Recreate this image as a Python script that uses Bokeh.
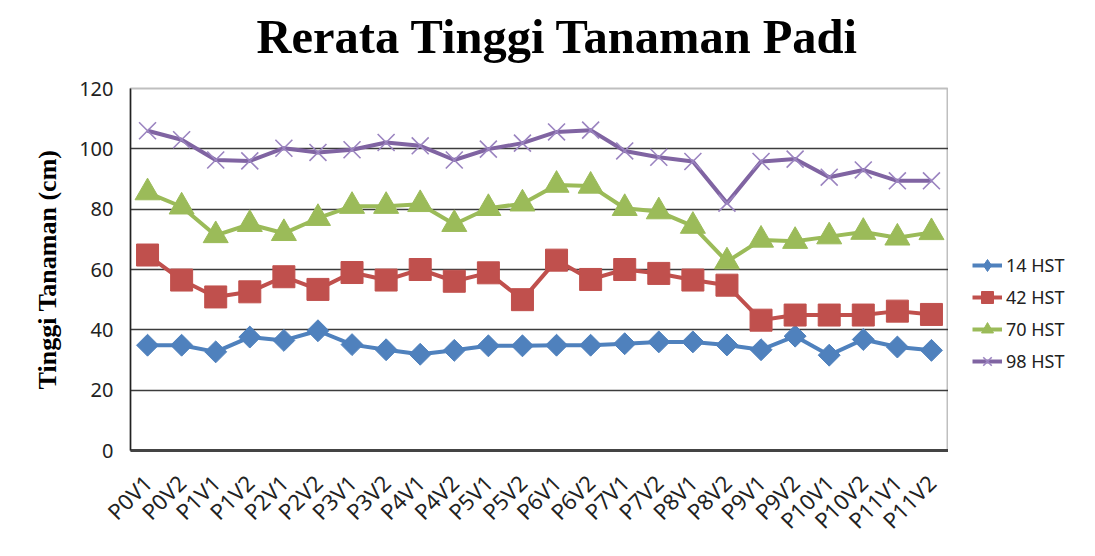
import numpy as np
from bokeh.plotting import figure
from bokeh.layouts import row
from bokeh.models import FactorRange, Range1d, Legend, LegendItem, FixedTicker, Title
from bokeh.embed import file_html
from bokeh.resources import INLINE

categories = ["P0V1", "P0V2", "P1V1", "P1V2", "P2V1", "P2V2", "P3V1", "P3V2",
              "P4V1", "P4V2", "P5V1", "P5V2", "P6V1", "P6V2", "P7V1", "P7V2",
              "P8V1", "P8V2", "P9V1", "P9V2", "P10V1", "P10V2", "P11V1", "P11V2"]

hst14 = [34.9, 34.9, 32.7, 37.6, 36.5, 39.7, 35.1, 33.4, 31.9, 33.2, 34.7, 34.7,
         34.9, 34.9, 35.4, 36.0, 36.0, 35.0, 33.4, 37.9, 31.6, 36.8, 34.3, 33.2]
hst42 = [64.8, 56.5, 50.9, 52.6, 57.6, 53.4, 59.0, 56.5, 60.0, 56.1, 58.9, 50.0,
         63.1, 56.7, 60.0, 58.7, 56.5, 54.8, 43.2, 44.9, 44.9, 44.9, 46.2, 45.1]
hst70 = [85.5, 80.8, 71.3, 75.0, 72.0, 77.0, 81.0, 81.0, 81.6, 75.0, 80.3, 81.8,
         88.0, 87.7, 80.3, 79.2, 74.4, 62.6, 69.8, 69.4, 70.9, 72.4, 70.5, 72.3]
hst98 = [106.0, 103.0, 96.3, 96.0, 100.2, 98.8, 99.7, 102.1, 101.0, 96.3, 99.9, 101.9,
         105.6, 106.2, 99.3, 97.2, 95.8, 82.0, 95.8, 96.6, 90.6, 93.0, 89.4, 89.4]

series_names = ["14 HST", "42 HST", "70 HST", "98 HST"]
y_ticks = [0, 20, 40, 60, 80, 100, 120]

colors = ["#4F81BD", "#C0504D", "#9BBB59", "#8064A2"]
x_color = "#9b84c0"

p = figure(width=948, height=548, x_range=FactorRange(*categories, range_padding=0),
           y_range=Range1d(0, 120), output_backend="svg", toolbar_location=None,
           title=None,
           min_border_left=130, min_border_right=0, min_border_top=88,
           min_border_bottom=98)

# spacer panel between the title and the plot area
p.add_layout(Title(text=" ", text_font_size="8px", standoff=8), "above")
p.add_layout(Title(text="Rerata Tinggi Tanaman Padi", align="left", offset=126,
                   text_font="Liberation Serif", text_font_style="bold",
                   text_font_size="48.5px", text_color="black", standoff=14),
             "above")

p.outline_line_color = "#bfbfbf"
p.outline_line_width = 2
p.background_fill_color = "white"
p.border_fill_color = "white"

p.xgrid.grid_line_color = None
p.ygrid.grid_line_color = "#3c3c3c"
p.ygrid.grid_line_width = 1.5

p.yaxis.ticker = FixedTicker(ticks=y_ticks)
p.yaxis.axis_line_color = "#222222"
p.yaxis.axis_line_width = 1.5
p.yaxis.major_tick_line_color = None
p.yaxis.minor_tick_line_color = None
p.yaxis.major_label_standoff = 11
p.yaxis.major_label_text_font = "Noto Sans"
p.yaxis.major_label_text_font_size = "20px"
p.yaxis.major_label_text_color = "#222222"
p.yaxis.axis_label = "Tinggi Tanaman (cm)"
p.yaxis.axis_label_text_font = "Liberation Serif"
p.yaxis.axis_label_text_font_style = "bold"
p.yaxis.axis_label_text_font_size = "26px"
p.yaxis.axis_label_text_color = "black"
p.yaxis.axis_label_standoff = 14

p.xaxis.axis_line_color = "#444444"
p.xaxis.axis_line_width = 3
p.xaxis.major_tick_line_color = None
p.xaxis.minor_tick_line_color = None
p.xaxis.major_label_orientation = np.pi / 4
p.xaxis.major_label_standoff = 22
p.xaxis.major_label_text_font = "Noto Sans"
p.xaxis.major_label_text_font_size = "22px"
p.xaxis.major_label_text_color = "#222222"

# legend panel: a narrow figure to the right of the plot area; its y range
# lies away from the data so only the legend is visible there
pl = figure(width=139, height=548, x_range=FactorRange(*categories),
            y_range=Range1d(-20, -10), output_backend="svg", toolbar_location=None,
            min_border_left=0, min_border_right=0, min_border_top=0,
            min_border_bottom=0)
pl.axis.visible = False
pl.grid.visible = False
pl.outline_line_color = None
pl.background_fill_color = "white"
pl.border_fill_color = "white"


def add_series(fig, i, xs, ys, legend_only=False):
    ln = fig.line(xs, ys, line_color=colors[i], line_width=4)
    if i == 0:
        if legend_only:
            mk = fig.scatter(xs, ys, marker="diamond", size=22,
                             fill_color=colors[i], line_color=colors[i])
        else:
            mk = fig.scatter(xs, ys, marker="square", size=15.5, angle=np.pi / 4,
                             fill_color=colors[i], line_color=colors[i])
    elif i == 1:
        mk = fig.scatter(xs, ys, marker="square", size=22,
                         fill_color=colors[i], line_color=colors[i])
    elif i == 2:
        mk = fig.scatter(xs, ys, marker="triangle", size=25,
                         fill_color=colors[i], line_color=colors[i])
    else:
        mk = fig.scatter(xs, ys, marker="x", size=24,
                         line_color=x_color, line_width=1.6)
    return ln, mk


series = [hst14, hst42, hst70, hst98]
items = []
for i, (name, vals) in enumerate(zip(series_names, series)):
    add_series(p, i, categories, vals)
    ln, mk = add_series(pl, i, categories, vals, legend_only=True)
    items.append(LegendItem(label=name, renderers=[ln, mk]))

legend = Legend(items=items, location=(24, 74), orientation="vertical",
                padding=0, margin=0, spacing=2, glyph_width=30, glyph_height=30,
                label_height=30, label_standoff=4, border_line_color=None,
                background_fill_alpha=0,
                label_text_font="Noto Sans", label_text_font_size="18px",
                label_text_color="#222222")
pl.add_layout(legend, "center")

layout = row(p, pl)
open("out.html", "w").write(file_html(layout, INLINE))
